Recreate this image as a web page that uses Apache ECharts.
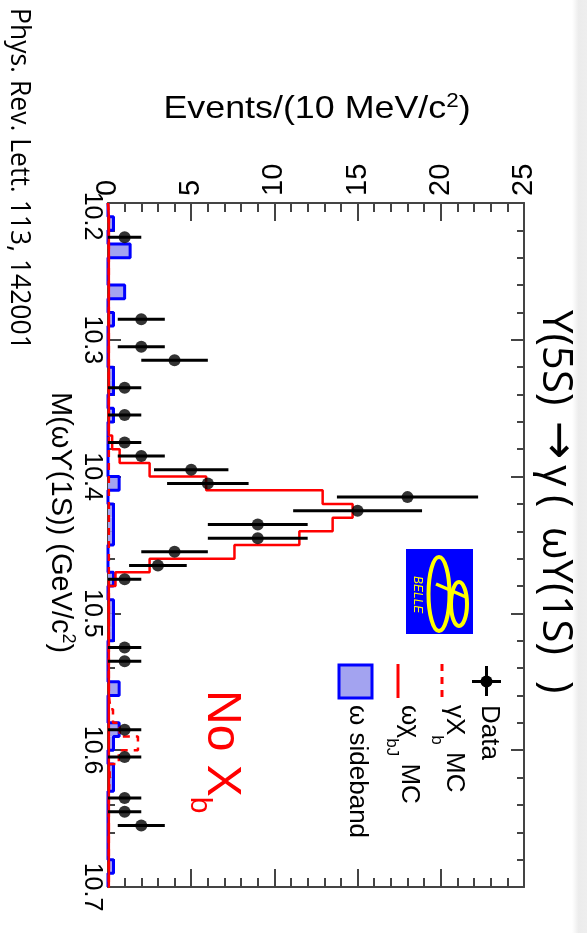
<!DOCTYPE html>
<html>
<head>
<meta charset="utf-8">
<script src="https://cdn.jsdelivr.net/npm/echarts@6/dist/echarts.min.js"></script>
<style>
html, body { margin: 0; padding: 0; background: #fff; overflow: hidden; }
#chart { width: 587px; height: 933px; }
</style>
</head>
<body>
<div id="chart"></div>
<script>
// Mass axis (GeV/c^2): 10 MeV bins from 10.20 to 10.70
const massMin = 10.2;
const massMax = 10.7;
const binWidth = 0.01;
const massTicks = [10.2, 10.3, 10.4, 10.5, 10.6, 10.7];
const eventTicks = [0, 5, 10, 15, 20, 25];

// Data: bin centre and number of events per bin
const dataMass = [10.225, 10.285, 10.305, 10.315, 10.335, 10.355, 10.375, 10.385,
  10.395, 10.405, 10.415, 10.425, 10.435, 10.445, 10.455, 10.465, 10.475,
  10.525, 10.535, 10.585, 10.605, 10.635, 10.645, 10.655];
const dataEvents = [1, 2, 2, 4, 1, 1, 1, 2,
  5, 6, 18, 15, 9, 9, 4, 3, 1,
  1, 1, 1, 1, 1, 1, 2];

// omega chi_bJ signal MC, 50 bins
const chiMC = [0.05, 0.05, 0.05, 0.05, 0.05, 0.05, 0.05, 0.05, 0.05, 0.05,
  0.05, 0.05, 0.05, 0.05, 0.05, 0.05, 0.05, 0.25, 0.7, 2.5,
  5.9, 12.9, 14.7, 13.5, 11.5, 7.6, 2.5, 0.45, 0.05, 0.05,
  0.05, 0.05, 0.05, 0.05, 0.05, 0.05, 0.05, 0.05, 0.05, 0.05,
  0.05, 0.05, 0.05, 0.05, 0.05, 0.05, 0.05, 0.05, 0.05, 0.05];

// gamma X_b MC, 50 bins
const xbMC = [0.05, 0.05, 0.05, 0.05, 0.05, 0.05, 0.05, 0.05, 0.05, 0.05,
  0.05, 0.05, 0.05, 0.05, 0.05, 0.05, 0.05, 0.05, 0.05, 0.05,
  0.05, 0.05, 0.05, 0.05, 0.05, 0.05, 0.05, 0.05, 0.05, 0.05,
  0.05, 0.05, 0.05, 0.05, 0.05, 0.05, 0.15, 0.3, 0.7, 1.8,
  0.65, 0.1, 0.05, 0.05, 0.05, 0.05, 0.05, 0.05, 0.05, 0.05];

// omega sideband, 50 bins
const sideband = [0, 0.33, 0, 1.33, 0, 0, 1, 0, 0.33, 0,
  0, 0, 0.33, 0.33, 0, 0.33, 0, 0, 0, 0,
  0.67, 0, 0.33, 0.33, 0.33, 0, 0, 0.33, 0, 0.33,
  0.33, 0.33, 0, 0, 0, 0.67, 0, 0, 0.67, 0.33,
  0, 0.33, 0.33, 0, 0, 0, 0, 0, 0.33, 0];

const BLUE = '#0000ff';
const RED = '#ff0000';
const FILL = '#a3a3f0';
const FRAME = '#444444';
const SANS = '"Liberation Sans", Arial, sans-serif';
const TITLE_FONT = '"Open Sans", "Noto Sans", sans-serif';

function binLow(i) { return +(massMin + i * binWidth).toFixed(3); }

// Step outline of a histogram, running along the mass axis
function stepOutline(values) {
  const pts = [[0, massMin]];
  values.forEach((v, i) => {
    pts.push([v, binLow(i)], [v, binLow(i + 1)]);
  });
  pts.push([0, massMax]);
  return pts;
}

const measureCtx = document.createElement('canvas').getContext('2d');
function textWidth(t, font) { measureCtx.font = font; return measureCtx.measureText(t).width; }

// Text reading top-to-bottom; x is the baseline side, runs laid end to end
// (a run may carry its own start y). stretch widens the glyphs across the line.
function verticalRuns(x, y, runs, opts) {
  opts = opts || {};
  const stretch = opts.stretch || 1;
  const out = [];
  let cy = y;
  runs.forEach(r => {
    const font = (r.style || 'normal') + ' ' + r.size + 'px ' + (r.family || SANS);
    if (r.y !== undefined) cy = r.y;
    out.push({
      type: 'text', x: x - (r.shift || 0) * stretch, y: cy, rotation: -Math.PI / 2, scaleY: stretch,
      z: opts.z || 100,
      style: { text: r.t, font: font, fill: r.color || '#000',
        align: 'left', textAlign: 'left', verticalAlign: 'bottom', textVerticalAlign: 'bottom' }
    });
    cy += textWidth(r.t, font);
  });
  return out;
}

const chart = echarts.init(document.getElementById('chart'), null, { renderer: 'canvas' });

const axisCommon = {
  type: 'value',
  axisLine: { show: true, onZero: false, lineStyle: { color: FRAME, width: 2 } },
  splitLine: { show: false },
  minorSplitLine: { show: false }
};

const graphics = [];
// soft shadow strip on the right edge of the page
graphics.push({
  type: 'rect', z: 0, shape: { x: 572, y: 0, width: 15, height: 933 },
  style: { fill: new echarts.graphic.LinearGradient(0, 0, 1, 0, [
    { offset: 0, color: 'rgba(236,236,236,0)' },
    { offset: 0.45, color: 'rgba(236,236,236,1)' },
    { offset: 1, color: 'rgba(238,238,238,1)' }]) }
});
// Title
graphics.push(...verticalRuns(534, 312, [
  { t: 'Υ(5S)', size: 42, family: TITLE_FONT, y: 310 },
  { t: '→', size: 46, family: '"DejaVu Sans", sans-serif', y: 421 },
  { t: 'γ', size: 42, family: TITLE_FONT, y: 465 },
  { t: '(', size: 42, family: TITLE_FONT, y: 495 },
  { t: 'ωΥ(1S)', size: 42, family: TITLE_FONT, y: 527 },
  { t: ')', size: 42, family: TITLE_FONT, y: 681 }
]));
// Reference
graphics.push(...verticalRuns(5, 8, [{ t: 'Phys. Rev. Lett. 113, 142001', size: 26.5, family: TITLE_FONT }]));
// Mass axis title
graphics.push(...verticalRuns(45, 392, [
  { t: 'M(ωϒ(1S)) (GeV/c', size: 29 },
  { t: '2', size: 18, shift: -14 },
  { t: ')', size: 29 }
]));
// Events axis title (horizontal)
graphics.push({
  type: 'text', x: 317, y: 109, z: 100, scaleX: 1.12,
  style: {
    text: 'Events/(10 MeV/c{sup|2})', font: '32px ' + SANS, fill: '#000',
    align: 'center', textAlign: 'center', verticalAlign: 'middle', textVerticalAlign: 'middle',
    rich: { sup: { fontSize: 20, fontFamily: 'Liberation Sans', verticalAlign: 'top', padding: [0, 0, 15, 0] } }
  }
});
// No X_b
graphics.push(...verticalRuns(197, 690, [
  { t: 'No X', size: 48, color: RED },
  { t: 'b', size: 30, color: RED, shift: 13 }
]));

// Legend
const legendY = 705;
graphics.push(
  { type: 'line', z: 100, shape: { x1: 472, y1: 681.5, x2: 501, y2: 681.5 }, style: { stroke: '#000', lineWidth: 3 } },
  { type: 'line', z: 100, shape: { x1: 486.5, y1: 666, x2: 486.5, y2: 696 }, style: { stroke: '#000', lineWidth: 3 } },
  { type: 'circle', z: 101, shape: { cx: 486.5, cy: 681.5, r: 6 }, style: { fill: '#000' } },
  { type: 'line', z: 100, shape: { x1: 442, y1: 664, x2: 442, y2: 698 }, style: { stroke: RED, lineWidth: 3, lineDash: [7, 6] } },
  { type: 'line', z: 100, shape: { x1: 398, y1: 664, x2: 398, y2: 698 }, style: { stroke: RED, lineWidth: 3 } },
  { type: 'rect', z: 100, shape: { x: 339, y: 665, width: 33, height: 33 }, style: { fill: FILL, stroke: BLUE, lineWidth: 3 } }
);
graphics.push(...verticalRuns(476, legendY, [{ t: 'Data', size: 26 }]));
graphics.push(...verticalRuns(441, legendY, [
  { t: 'γX', size: 26 }, { t: 'b', size: 17, shift: 13 }, { t: ' MC', size: 26 }
]));
graphics.push(...verticalRuns(396, legendY, [
  { t: 'ωχ', size: 26 }, { t: 'bJ', size: 17, shift: 13 }, { t: ' MC', size: 26 }
]));
graphics.push(...verticalRuns(344, legendY, [{ t: 'ω sideband', size: 26 }]));

// Belle logo
graphics.push(
  { type: 'rect', z: 100, shape: { x: 406, y: 549, width: 67, height: 85 }, style: { fill: BLUE } },
  { type: 'ellipse', z: 101, shape: { cx: 439, cy: 594, rx: 10.5, ry: 37 }, style: { fill: null, stroke: '#ffff00', lineWidth: 4 } },
  { type: 'ellipse', z: 101, shape: { cx: 459, cy: 604, rx: 8, ry: 22 }, style: { fill: null, stroke: '#ffff00', lineWidth: 4 } },
  { type: 'line', z: 101, shape: { x1: 436, y1: 584, x2: 466, y2: 597 }, style: { stroke: '#ffff00', lineWidth: 3.5 } }
);
graphics.push(...verticalRuns(411, 576, [{ t: 'BELLE', size: 12, style: 'italic', color: '#ffff00' }], { z: 102 }));

const option = {
  animation: false,
  backgroundColor: '#fff',
  grid: { left: 108, right: 63, top: 203, bottom: 46, containLabel: false },
  xAxis: [
    Object.assign({}, axisCommon, {
      position: 'top', min: eventTicks[0], max: eventTicks[eventTicks.length - 1], interval: 5,
      axisTick: { show: true, inside: true, length: 18, lineStyle: { color: FRAME, width: 2 } },
      minorTick: { show: true, splitNumber: 5, length: 9, lineStyle: { color: FRAME, width: 2 } },
      axisLabel: { show: true, rotate: -90, fontSize: 29, fontFamily: SANS, color: '#000', margin: 7 }
    }),
    Object.assign({}, axisCommon, {
      position: 'bottom', min: eventTicks[0], max: eventTicks[eventTicks.length - 1], interval: 5,
      axisTick: { show: true, inside: true, length: 18, lineStyle: { color: FRAME, width: 2 } },
      minorTick: { show: true, splitNumber: 5, length: 9, lineStyle: { color: FRAME, width: 2 } },
      axisLabel: { show: false }
    })
  ],
  yAxis: [
    Object.assign({}, axisCommon, {
      position: 'left', inverse: true, min: massTicks[0], max: massTicks[massTicks.length - 1], interval: 0.1,
      axisTick: { show: true, inside: true, length: 13, lineStyle: { color: FRAME, width: 2 } },
      minorTick: { show: true, splitNumber: 5, length: 7, lineStyle: { color: FRAME, width: 2 } },
      axisLabel: {
        show: true, rotate: -90, fontSize: 25, fontFamily: SANS, color: '#000', margin: 4,
        // the first label is nudged down, clear of the events-axis "0"
        formatter: v => (Math.abs(v - massTicks[0]) < 1e-6 ? '{first|' + v.toFixed(1) + '}' : v.toFixed(1)),
        rich: { first: { fontSize: 25, fontFamily: SANS, color: '#000', padding: [0, 0, 0, 26] } }
      }
    }),
    Object.assign({}, axisCommon, {
      position: 'right', inverse: true, min: massTicks[0], max: massTicks[massTicks.length - 1], interval: 0.1,
      axisTick: { show: true, inside: true, length: 13, lineStyle: { color: FRAME, width: 2 } },
      minorTick: { show: true, splitNumber: 5, length: 7, lineStyle: { color: FRAME, width: 2 } },
      axisLabel: { show: false }
    })
  ],
  series: [
    {
      // sideband fill
      type: 'custom', xAxisIndex: 0, yAxisIndex: 0, z: 1, silent: true,
      data: sideband.map((v, i) => [v, binLow(i), binLow(i + 1)]),
      renderItem: (params, api) => {
        const v = api.value(0);
        if (v <= 0) return null;
        const p0 = api.coord([0, api.value(1)]);
        const p1 = api.coord([v, api.value(2)]);
        return { type: 'rect', shape: { x: p0[0], y: p0[1], width: p1[0] - p0[0], height: p1[1] - p0[1] },
          style: { fill: FILL } };
      }
    },
    {
      type: 'line', name: 'ω sideband', z: 2, data: stepOutline(sideband), showSymbol: false, silent: true,
      lineStyle: { color: BLUE, width: 3 }
    },
    {
      type: 'line', name: 'γX_b MC', z: 3, data: stepOutline(xbMC), showSymbol: false, silent: true,
      lineStyle: { color: RED, width: 2.5, type: [7, 6] }
    },
    {
      type: 'line', name: 'ωχ_bJ MC', z: 3, data: stepOutline(chiMC), showSymbol: false, silent: true,
      lineStyle: { color: RED, width: 2.5 }
    },
    {
      // statistical error bars on the data
      type: 'custom', z: 4, silent: true,
      data: dataEvents.map((n, i) => [n, dataMass[i]]),
      renderItem: (params, api) => {
        const n = api.value(0), m = api.value(1);
        const e = Math.sqrt(n);
        const a = api.coord([Math.max(0, n - e), m]);
        const b = api.coord([n + e, m]);
        return { type: 'line', shape: { x1: a[0], y1: a[1], x2: b[0], y2: b[1] },
          style: { stroke: '#000', lineWidth: 3 } };
      }
    },
    {
      type: 'scatter', name: 'Data', z: 5, silent: true,
      data: dataEvents.map((n, i) => [n, dataMass[i]]),
      symbol: 'circle', symbolSize: 12, itemStyle: { color: '#000' }
    }
  ],
  graphic: graphics
};

chart.setOption(option);
</script>
</body>
</html>
